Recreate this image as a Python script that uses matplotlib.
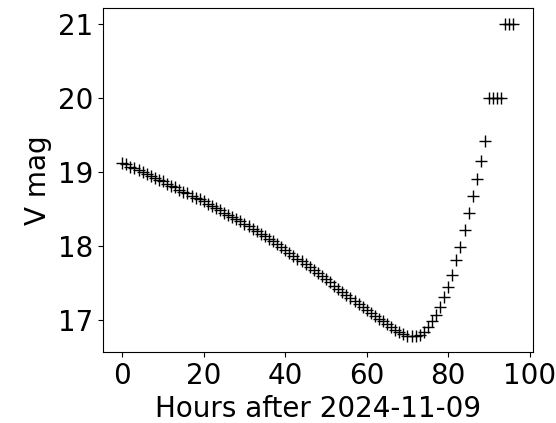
import matplotlib
matplotlib.use("Agg")
import matplotlib.pyplot as plt

hours = list(range(0, 97))
vmag = [
    19.12, 19.10, 19.07, 19.05, 19.02, 19.00, 18.97, 18.95, 18.92, 18.89,
    18.87, 18.84, 18.81, 18.79, 18.76, 18.73, 18.71, 18.68, 18.65, 18.63,
    18.60, 18.57, 18.54, 18.51, 18.48, 18.45, 18.42, 18.39, 18.36, 18.33,
    18.30, 18.27, 18.23, 18.20, 18.16, 18.13, 18.09, 18.06, 18.02, 17.99,
    17.95, 17.91, 17.87, 17.83, 17.79, 17.75, 17.71, 17.67, 17.63, 17.59,
    17.55, 17.51, 17.46, 17.42, 17.38, 17.34, 17.30, 17.26, 17.22, 17.18,
    17.14, 17.10, 17.06, 17.02, 16.98, 16.94, 16.91, 16.87, 16.84, 16.81,
    16.79, 16.78, 16.78, 16.80, 16.84, 16.90, 16.98, 17.07, 17.18, 17.31,
    17.45, 17.61, 17.81, 17.99, 18.22, 18.44, 18.67, 18.91, 19.15, 19.41,
    20.0, 20.0, 20.0, 20.0,
    21.0, 21.0, 21.0,
]

x_ticks = [0, 20, 40, 60, 80, 100]
y_ticks = [17, 18, 19, 20, 21]
x_label = "Hours after 2024-11-09"
y_label = "V mag"

fig = plt.figure(figsize=(5.56, 4.23), dpi=100)
ax = fig.add_axes([0.1847, 0.168, 0.7739, 0.813])
ax.plot(hours, vmag, "k+", markersize=8)
ax.set_xticks(x_ticks)
ax.set_yticks(y_ticks)
ax.set_xlabel(x_label, fontsize=20)
ax.set_ylabel(y_label, fontsize=20)
ax.tick_params(labelsize=20)
fig.savefig("out.png", dpi=100)
